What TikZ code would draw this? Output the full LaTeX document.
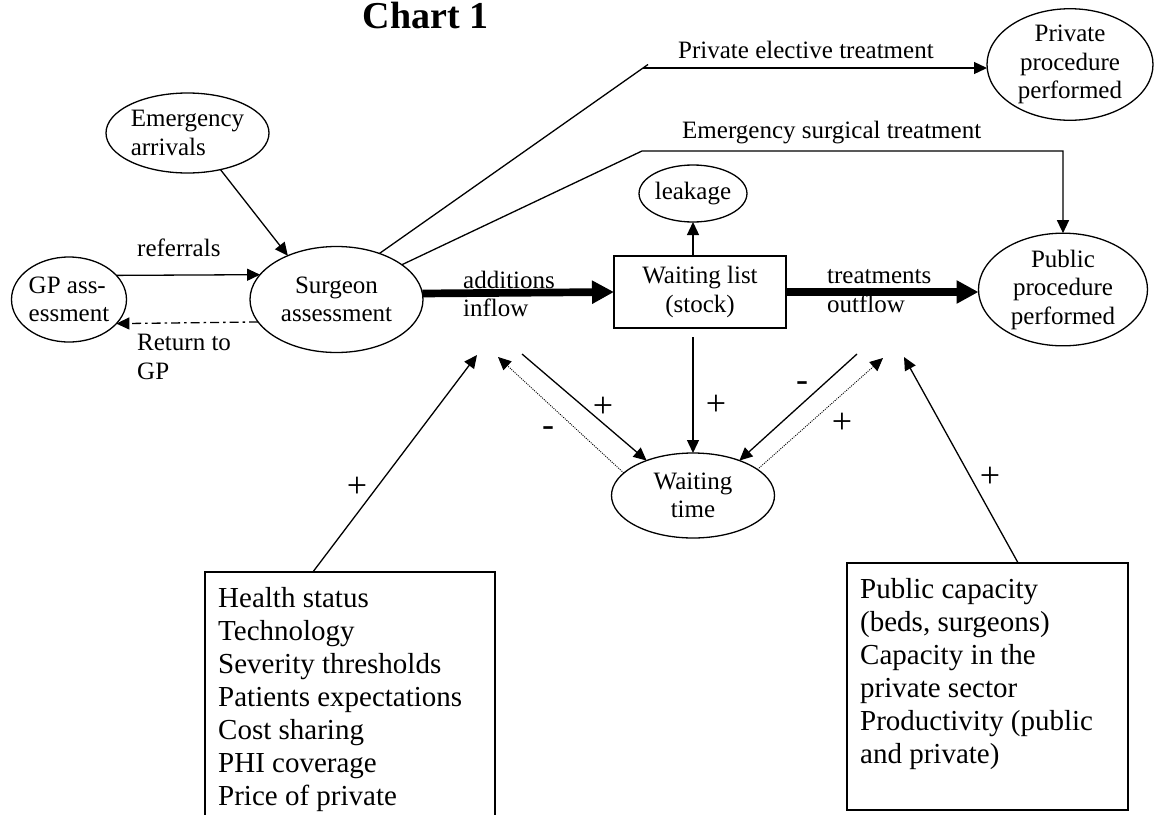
\documentclass[tikz,border=0pt]{standalone}
\usepackage{fontspec}
\setmainfont{Liberation Serif}
\usetikzlibrary{shapes.geometric,arrows.meta,calc}
\newcommand{\lblfont}{\fontsize{25}{28.5}\selectfont}
\newcommand{\boxfont}{\fontsize{29}{33}\selectfont}
\newcommand{\signfont}{\fontsize{36}{40}\selectfont}
\begin{document}
\begin{tikzpicture}[x=1pt,y=-1pt,
  ell/.style={ellipse,draw,line width=1.3pt,inner sep=0pt,outer sep=0pt,font=\lblfont},
  boxnode/.style={rectangle,draw,line width=1.3pt,inner sep=0pt,outer sep=0pt},
  lbl/.style={inner sep=0pt,font=\lblfont,align=left,anchor=west},
  sign/.style={inner sep=0pt,font=\signfont},
  conn/.style={line width=1.3pt,-{Triangle[length=13pt,width=12pt]}},
  plainline/.style={line width=1.3pt},
  dotconn/.style={line width=0.9pt,dash pattern=on 1pt off 1.2pt,-{Triangle[length=13pt,width=12pt]}},
  dashdotconn/.style={line width=1.3pt,dash pattern=on 9pt off 4pt on 2.5pt off 4pt,-{Triangle[length=13pt,width=12pt]}},
  flow/.style={line width=7.7pt,-{Triangle[length=22pt,width=22pt]}}]
\clip (0,0) rectangle (1154,814);
\fill[white] (0,0) rectangle (1154,814);

% title
\node[anchor=base,inner sep=0pt,font=\fontsize{38}{40}\selectfont\bfseries] (title) at (425.5,28) {Chart 1};

% ellipses
\node[ell,minimum width=163pt,minimum height=80pt,align=left] (emerg) at (187.5,133) {Emergency\\arrivals};
\node[ell,minimum width=115pt,minimum height=85pt,align=left] (gp) at (69,299.5) {GP ass-\\essment};
\node[ell,minimum width=173pt,minimum height=106pt,align=center] (surg) at (336.5,299.5) {Surgeon\\assessment};
\node[ell,minimum width=96pt,minimum height=57pt] (leak) at (693,193.5) {leakage};
\node[ell,minimum width=169pt,minimum height=105pt,align=center] (pub) at (1063,289.5) {Public\\procedure\\performed};
\node[ell,minimum width=166pt,minimum height=105pt,align=center] (priv) at (1070,64.5) {Private\\procedure\\performed};
\node[ell,minimum width=163pt,minimum height=85pt,align=center] (wt) at (693,495.5) {Waiting\\time};

% waiting list box
\node[boxnode,minimum width=172pt,minimum height=72pt,font=\lblfont,align=center] (wl) at (700,292) {Waiting list\\(stock)};

% factor boxes
\node[boxnode,minimum width=290pt,minimum height=270pt,anchor=north west] (lbox) at (205,572) {};
\node[anchor=north west,inner sep=0pt,font=\boxfont,align=left] (ltext) at ([shift={(13pt,-15pt)}]lbox.north west)
  {Health status\\Technology\\Severity thresholds\\Patients expectations\\Cost sharing\\PHI coverage\\Price of private};
\node[boxnode,minimum width=281pt,minimum height=247pt,anchor=north west] (rbox) at (847,563) {};
\node[anchor=north west,inner sep=0pt,font=\boxfont,align=left] (rtext) at ([shift={(13pt,-15pt)}]rbox.north west)
  {Public capacity\\(beds, surgeons)\\Capacity in the\\private sector\\Productivity (public\\and private)};

% labels
\node[lbl] (referrals) at (137,248) {referrals};
\node[lbl] (returnlbl) at (137,357) {Return to\\GP};
\node[lbl] (addlbl) at (463,294) {additions\\inflow};
\node[lbl] (treatlbl) at (827,291) {treatments\\outflow};
\node[lbl] (privlbl) at (678,50) {Private elective treatment};
\node[lbl] (emlbl) at (682,133) {Emergency surgical treatment};

% coordinates
\coordinate (pcorner) at (643,68);
\coordinate (ptick) at (648,64.5);
\coordinate (ecorner) at (642,151);
\coordinate (wlb) at ([yshift=-9pt]wl.south);
\coordinate (ainA) at (477,355);
\coordinate (ainB) at (498,357);
\coordinate (ainC) at (522,354);
\coordinate (aoutA) at (857,354);
\coordinate (aoutB) at (883,358);
\coordinate (aoutC) at (904,357);

% connectors
\draw[conn] (gp.27.5) -- (surg.162.3);
\draw[dashdotconn] (surg.196.9) -- (gp.333.9);
\draw[conn] (emerg.312) -- (surg.138.6);
\draw[plainline] (surg.47.6) -- (ptick);
\draw[conn] (pcorner) -- (pcorner -| priv.west);
\draw[conn] (surg.28.4) -- (ecorner) -- (ecorner -| pub.north) -- (pub.north);
\draw[flow] (surg.4.3) -- (wl.west);
\draw[flow] (wl.east) -- (wl.east -| pub.west);
\draw[conn] (leak.south |- wl.north) -- (leak.south);
\draw[conn] (wlb -| wt.north) -- (wt.north);

\draw[conn] ($(lbox.north west)!0.372!(lbox.north east)$) -- (ainA);
\draw[dotconn] (wt.162.2) -- (ainB);
\draw[conn] (ainC) -- (wt.143.3);
\draw[conn] (aoutA) -- (wt.37.1);
\draw[dotconn] (wt.22.2) -- (aoutB);
\draw[conn] ($(rbox.north west)!0.609!(rbox.north east)$) -- (aoutC);

% signs
\node[sign] (s1) at (357,487) {+};
\node[sign] (s2) at (548,432) {-};
\node[sign] (s3) at (603,407) {+};
\node[sign] (s4) at (716,405) {+};
\node[sign] (s5) at (802,387) {-};
\node[sign] (s6) at (842,423) {+};
\node[sign] (s7) at (990,477) {+};
\end{tikzpicture}
\end{document}
